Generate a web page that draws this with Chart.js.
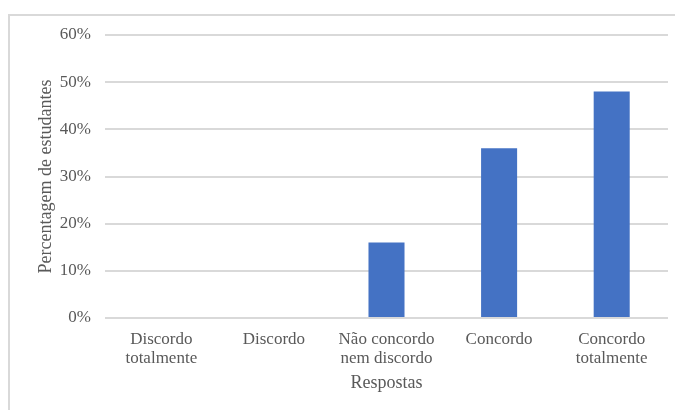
<!DOCTYPE html>
<html>
<head>
<meta charset="utf-8">
<script src="https://cdn.jsdelivr.net/npm/chart.js@4"></script>
<style>
  html, body { margin: 0; padding: 0; background: #fff; }
  #wrap { position: relative; width: 675px; height: 410px; overflow: hidden; }
  #frame { position: absolute; left: 8px; top: 14px; width: 700px; height: 420px; border: 2px solid #d9d9d9; box-sizing: border-box; }
  canvas { position: absolute; left: 0; top: 0; }
</style>
</head>
<body>
<div id="wrap">
  <div id="frame"></div>
  <canvas id="respChart" width="675" height="410"></canvas>
</div>
<script>
// data
const categories = [
    ["Discordo", "totalmente"],
    "Discordo",
    ["Não concordo", "nem discordo"],
    "Concordo",
    ["Concordo", "totalmente"]
];
const percentages = [0, 0, 16, 36, 48];
const yTicks = [0, 10, 20, 30, 40, 50, 60];

const textColor = "#595959";
const gridColor = "#d9d9d9";
const fontFamily = "'Liberation Serif', 'Times New Roman', serif";

const ctx = document.getElementById("respChart").getContext("2d");

const respChart = new Chart(ctx, {
    type: "bar",
    data: {
        labels: categories,
        datasets: [{
            label: "Percentagem",
            data: percentages,
            backgroundColor: "#4472C4",
            borderWidth: 0,
            barPercentage: 0.32,
            categoryPercentage: 1
        }]
    },
    options: {
        responsive: false,
        animation: false,
        layout: { padding: { top: 35, right: 7, left: 0, bottom: 0 } },
        plugins: {
            legend: { display: false },
            tooltip: { enabled: false }
        },
        scales: {
            x: {
                grid: { display: false },
                border: { display: false },
                ticks: {
                    color: textColor,
                    font: { family: fontFamily, size: 17, lineHeight: 1.12 },
                    padding: 4,
                    maxRotation: 0,
                    autoSkip: false
                },
                title: {
                    display: true,
                    text: "Respostas",
                    color: textColor,
                    font: { family: fontFamily, size: 18 },
                    padding: { top: 0, bottom: 16 }
                },
                afterFit: (scale) => { scale.height = 92; }
            },
            y: {
                min: 0,
                max: 60,
                afterBuildTicks: (scale) => {
                    scale.ticks = yTicks.map(v => ({ value: v }));
                },
                grid: { color: gridColor, lineWidth: 2, drawTicks: false },
                border: { display: false },
                ticks: {
                    color: textColor,
                    font: { family: fontFamily, size: 17 },
                    padding: 14,
                    callback: (v) => v + "%"
                },
                title: {
                    display: true,
                    text: "Percentagem de estudantes",
                    color: textColor,
                    font: { family: fontFamily, size: 18 },
                    padding: { top: 35, bottom: 0 }
                },
                afterFit: (scale) => { scale.width = 105; }
            }
        }
    }
});
</script>
</body>
</html>
